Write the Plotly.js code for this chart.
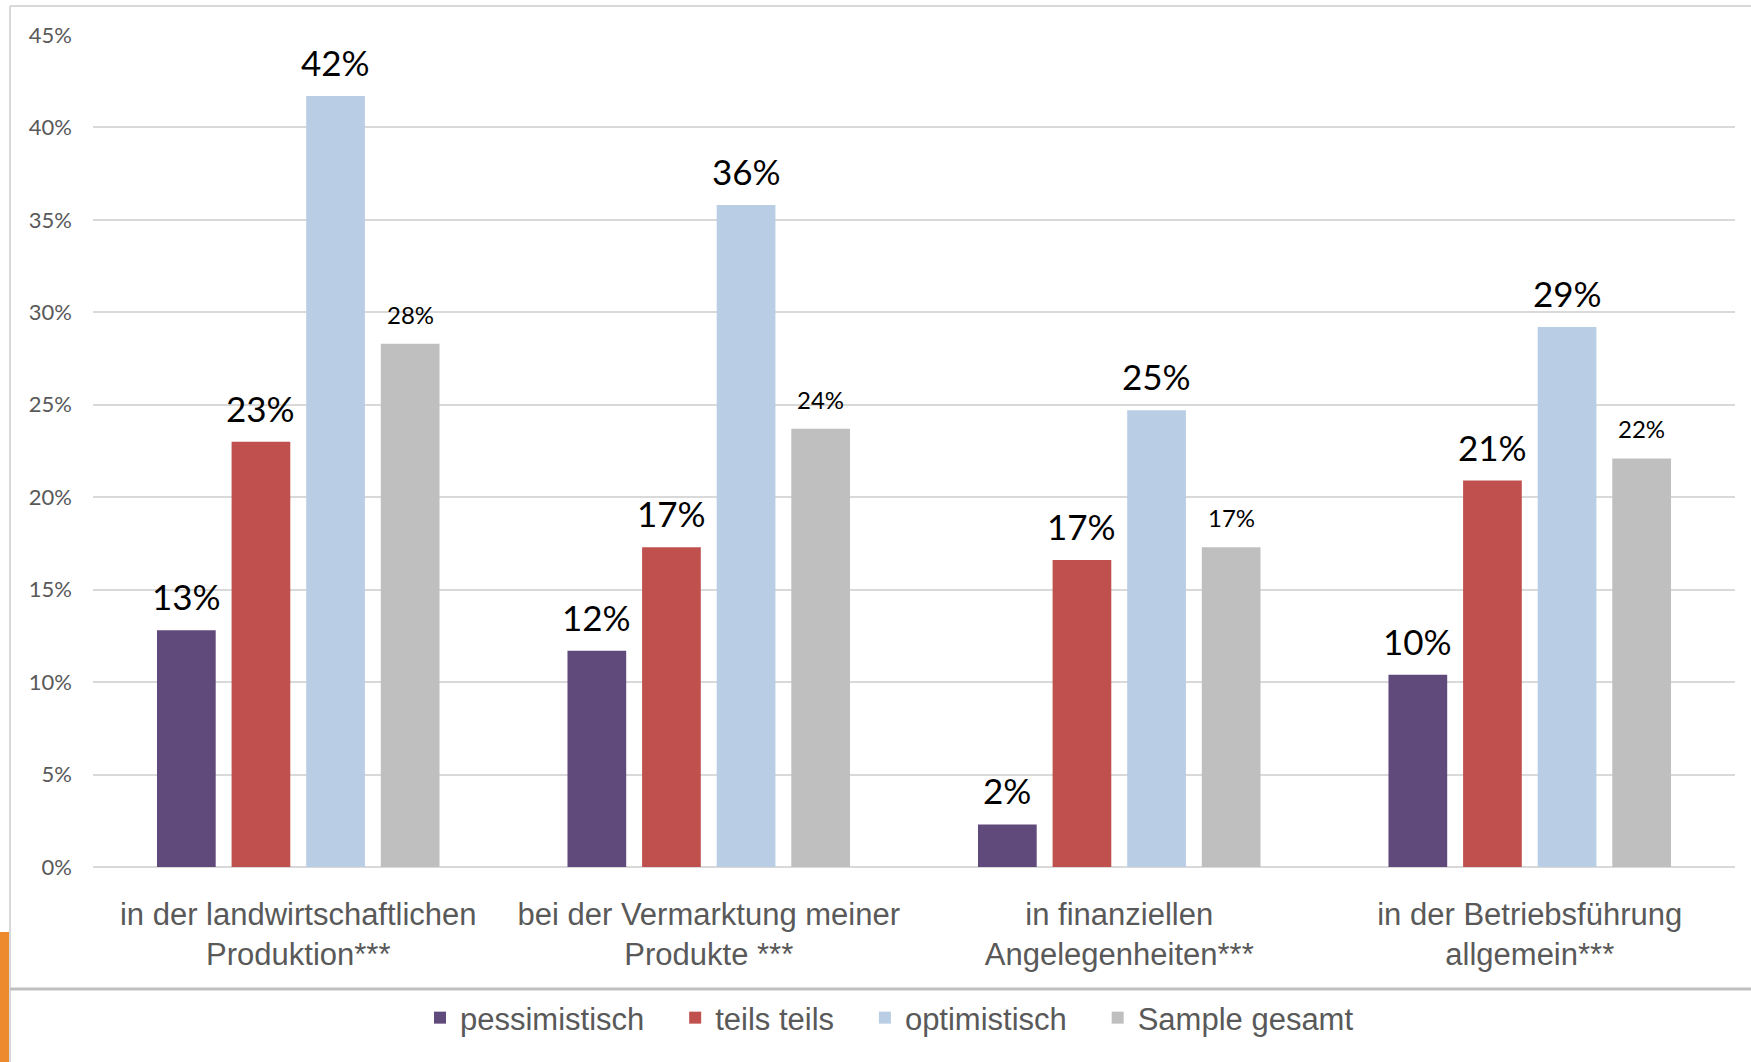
<!DOCTYPE html>
<html>
<head>
<meta charset="utf-8">
<script src="https://cdn.plot.ly/plotly-3.0.1.min.js"></script>
<style>
  html, body { margin: 0; padding: 0; background: #ffffff; }
  #chart { width: 1751px; height: 1062px; }
</style>
</head>
<body>
<div id="chart"></div>
<script>
// ---- data ----
const categories = ['Produktion', 'Vermarktung', 'Finanzen', 'Betriebsführung'];
const categoryLabels = [
  'in der landwirtschaftlichen<br>Produktion***',
  'bei der Vermarktung meiner<br>Produkte ***',
  'in finanziellen<br>Angelegenheiten***',
  'in der Betriebsführung<br>allgemein***'
];
const seriesNames = ['pessimistisch', 'teils teils', 'optimistisch', 'Sample gesamt'];
const pessimistisch = [12.8, 11.7, 2.3, 10.4];
const teilsTeils    = [23.0, 17.3, 16.6, 20.9];
const optimistisch  = [41.7, 35.8, 24.7, 29.2];
const sampleGesamt  = [28.3, 23.7, 17.3, 22.1];
const yTickVals = [0, 5, 10, 15, 20, 25, 30, 35, 40, 45];
const yTickText = ['0%', '5%', '10%', '15%', '20%', '25%', '30%', '35%', '40%', '45%'];

// ---- styling ----
const colors = ['#604A7B', '#C0504D', '#B9CDE5', '#BFBFBF'];
const labelSizes = [35, 35, 35, 24];
const labelShift = [11, 11, 11, 13];
const seriesValues = [pessimistisch, teilsTeils, optimistisch, sampleGesamt];
const narrowFont = '"Liberation Sans", Arial, sans-serif';
const calibriLike = 'Lato, Carlito, sans-serif';

const W = 1751, H = 1062;
const M = { l: 93, r: 16, t: 35, b: 195 };
const PW = W - M.l - M.r, PH = H - M.t - M.b;
const px = x => (x - M.l) / PW;
const py = y => (H - M.b - y) / PH;
const BARGAP = 0.273, BARGROUPGAP = 0.213;
const slotPx = (PW / categories.length) * (1 - BARGAP) / seriesValues.length;

const traces = seriesValues.map((vals, i) => ({
  type: 'bar',
  name: seriesNames[i] + '\u00A0\u00A0\u00A0',
  x: categories,
  y: vals,
  marker: { color: colors[i] },
  hoverinfo: 'skip'
}));

// value labels above the bars, anchored at each bar's data value
const annotations = [];
seriesValues.forEach((vals, i) => {
  vals.forEach((v, j) => {
    annotations.push({
      xref: 'x', yref: 'y',
      x: categories[j], y: v,
      xshift: (i - (seriesValues.length - 1) / 2) * slotPx,
      yshift: labelShift[i],
      yanchor: 'bottom', xanchor: 'center',
      showarrow: false,
      text: Math.round(v) + '%',
      font: { family: calibriLike, size: labelSizes[i], color: '#000000' }
    });
  });
});

const layout = {
  width: W, height: H,
  margin: M,
  paper_bgcolor: '#ffffff',
  plot_bgcolor: '#ffffff',
  barmode: 'group',
  bargap: BARGAP,
  bargroupgap: BARGROUPGAP,
  showlegend: true,
  legend: {
    orientation: 'h',
    x: px(902), xanchor: 'center',
    y: py(1018), yanchor: 'middle',
    font: { family: narrowFont, size: 31, color: '#595959' },
    traceorder: 'normal',
    itemclick: false, itemdoubleclick: false
  },
  xaxis: {
    type: 'category',
    tickmode: 'array',
    tickvals: categories,
    ticktext: categoryLabels,
    tickangle: 0,
    tickfont: { family: narrowFont, size: 31, color: '#595959' },
    showgrid: false,
    showline: false,
    ticks: '',
    ticklabelstandoff: 26,
    fixedrange: true
  },
  yaxis: {
    range: [0, 45],
    tickmode: 'array',
    tickvals: yTickVals,
    ticktext: yTickText,
    tickfont: { family: calibriLike, size: 22, color: '#595959' },
    showgrid: true,
    gridcolor: '#D9D9D9',
    gridwidth: 2,
    zeroline: true,
    zerolinecolor: '#D9D9D9',
    zerolinewidth: 2,
    showline: false,
    ticks: '',
    ticklabelstandoff: 20,
    fixedrange: true
  },
  annotations: annotations,
  shapes: [
    { type: 'rect', xref: 'paper', yref: 'paper', x0: px(0), x1: px(9), y0: py(932), y1: py(1062),
      fillcolor: '#EE8A2E', line: { width: 0 }, layer: 'above' },
    { type: 'line', xref: 'paper', yref: 'paper', x0: px(10), x1: px(1751), y0: py(6), y1: py(6),
      line: { color: '#D9D9D9', width: 2 } },
    { type: 'line', xref: 'paper', yref: 'paper', x0: px(10), x1: px(10), y0: py(6), y1: py(1062),
      line: { color: '#D9D9D9', width: 2 } },
    { type: 'line', xref: 'paper', yref: 'paper', x0: px(10), x1: px(1751), y0: py(989), y1: py(989),
      line: { color: '#BFBFBF', width: 3 } }
  ]
};

Plotly.newPlot('chart', traces, layout, { displayModeBar: false, staticPlot: true });
</script>
</body>
</html>
